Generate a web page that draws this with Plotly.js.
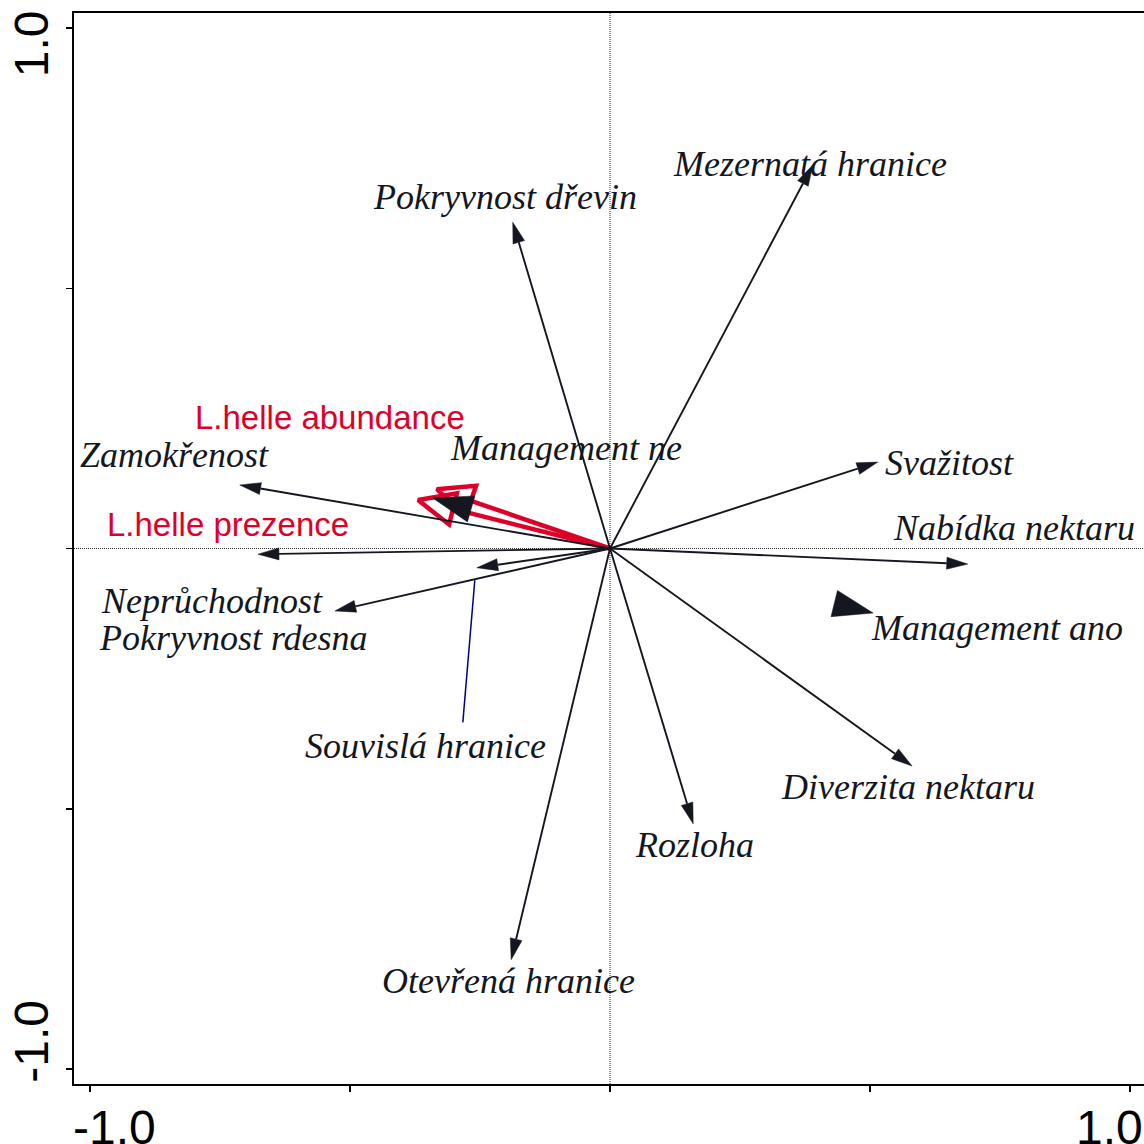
<!DOCTYPE html>
<html><head><meta charset="utf-8">
<script src="https://cdn.plot.ly/plotly-3.0.1.min.js"></script>
<style>html,body{margin:0;padding:0;background:#fff;}</style>
</head><body><div id="chart" style="width:1144px;height:1144px;"></div>
<script>
// ---- data ----
const envNames = ['Pokryvnost dřevin','Mezernatá hranice','Svažitost','Nabídka nektaru','Diverzita nektaru','Rozloha','Otevřená hranice','Zamokřenost','Neprůchodnost','Pokryvnost rdesna','Souvislá hranice'];
const envX = [-0.187, 0.390, 0.515, 0.688, 0.581, 0.160, -0.190, -0.712, -0.677, -0.529, -0.256];
const envY = [ 0.627, 0.737, 0.166, -0.030, -0.418, -0.529, -0.790, 0.122, -0.011, -0.120, -0.037];
const spNames = ['L.helle abundance','L.helle prezence'];
const spX = [-0.333, -0.369];
const spY = [ 0.114,  0.093];
const ctrNames = ['Management ne','Management ano'];
const ctrX = [-0.341, 0.506];
const ctrY = [ 0.097, -0.124];
const tickVals = [-1, -0.5, 0, 0.5, 1];
const xTickLabels = ['-1.0','1.0'];
const yTickLabels = ['1.0','-1.0'];

// ---- label layout (positions in data units) ----
const envLabelPos = [[-0.202,0.675],[0.385,0.739],[0.652,0.164],[0.777,0.039],[0.573,-0.458],[0.163,-0.570],[-0.196,-0.831],[-0.838,0.180],[-0.765,-0.101],[-0.725,-0.172],[-0.354,-0.379]];
const spLabelPos = [[-0.538,0.251],[-0.735,0.047]];
const ctrLabelPos = [[-0.085,0.194],[0.744,-0.153]];

// ---- style ----
const PX = 520;
const BLACK = '#14171f';
const RED = 'rgb(222,0,40)';
const SERIF = 'Liberation Serif, Times New Roman, serif';
const SANS = 'Liberation Sans, Arial, sans-serif';

function geom(x, y, len, wid) {
  const d = Math.hypot(x, y), ux = x / d, uy = y / d;
  const L = len / PX, W = wid / 2 / PX;
  const bx = x - ux * L, by = y - uy * L;
  return { base: [bx, by], poly: [[x, y], [bx - uy * W, by + ux * W], [bx + uy * W, by - ux * W], [x, y]] };
}
function push(ax, ay, pts) { pts.forEach(p => { ax.push(p[0]); ay.push(p[1]); }); ax.push(null); ay.push(null); }

const shX = [], shY = [], hdX = [], hdY = [];
envX.forEach((x, i) => {
  const g = geom(x, envY[i], 21, 12);
  push(shX, shY, [[0, 0], g.base]);
  push(hdX, hdY, g.poly);
});
const ctX = [], ctY = [];
ctrX.forEach((x, i) => { push(ctX, ctY, geom(x, ctrY[i], 40, 27).poly); });
const rsX = [], rsY = [], rhX = [], rhY = [];
spX.forEach((x, i) => {
  const g = geom(x, spY[i], 36, 32);
  push(rsX, rsY, [[0, 0], g.base]);
  push(rhX, rhY, g.poly.concat([g.poly[1]]));
});

const traces = [
  { x: rsX, y: rsY, mode: 'lines', line: { color: RED, width: 4.5 }, hoverinfo: 'skip', showlegend: false },
  { x: rhX, y: rhY, mode: 'lines', line: { color: RED, width: 4.5 }, hoverinfo: 'skip', showlegend: false },
  { x: shX, y: shY, mode: 'lines', line: { color: BLACK, width: 1.9 }, hoverinfo: 'skip', showlegend: false },
  { x: hdX, y: hdY, mode: 'lines', fill: 'toself', fillcolor: BLACK, line: { color: BLACK, width: 0.5 }, hoverinfo: 'skip', showlegend: false },
  { x: ctX, y: ctY, mode: 'lines', fill: 'toself', fillcolor: BLACK, line: { color: BLACK, width: 0.5 }, hoverinfo: 'skip', showlegend: false }
];

const ann = [];
envNames.forEach((n, i) => ann.push({ x: envLabelPos[i][0], y: envLabelPos[i][1], text: '<i>' + n + '</i>', showarrow: false, xanchor: 'center', yanchor: 'middle', font: { family: SERIF, size: 36, color: BLACK } }));
ctrNames.forEach((n, i) => ann.push({ x: ctrLabelPos[i][0], y: ctrLabelPos[i][1], text: '<i>' + n + '</i>', showarrow: false, xanchor: 'center', yanchor: 'middle', font: { family: SERIF, size: 36, color: BLACK } }));
spNames.forEach((n, i) => ann.push({ x: spLabelPos[i][0], y: spLabelPos[i][1], text: n, showarrow: false, xanchor: 'center', yanchor: 'middle', font: { family: SANS, size: 33, color: RED } }));
// axis tick labels
ann.push({ xref: 'paper', yref: 'paper', x: 0.0374, y: -0.041, text: xTickLabels[0], showarrow: false, xanchor: 'center', yanchor: 'middle', font: { family: SANS, size: 48, color: '#000' } });
ann.push({ xref: 'paper', yref: 'paper', x: 0.968, y: -0.041, text: xTickLabels[1], showarrow: false, xanchor: 'center', yanchor: 'middle', font: { family: SANS, size: 48, color: '#000' } });
ann.push({ xref: 'paper', yref: 'paper', x: -0.040, y: 0.971, text: yTickLabels[0], textangle: -90, showarrow: false, xanchor: 'center', yanchor: 'middle', font: { family: SANS, size: 48, color: '#000' } });
ann.push({ xref: 'paper', yref: 'paper', x: -0.040, y: 0.0397, text: yTickLabels[1], textangle: -90, showarrow: false, xanchor: 'center', yanchor: 'middle', font: { family: SANS, size: 48, color: '#000' } });

const shapes = [
  { type: 'line', xref: 'x', yref: 'paper', x0: 0, x1: 0, y0: 0, y1: 1, line: { color: '#333', width: 1, dash: '1px,1px' }, layer: 'below' },
  { type: 'line', xref: 'paper', yref: 'y', x0: 0, x1: 1, y0: 0, y1: 0, line: { color: '#333', width: 1, dash: '1px,1px' }, layer: 'below' },
  { type: 'line', xref: 'x', yref: 'y', x0: -0.260, y0: -0.061, x1: -0.283, y1: -0.334, line: { color: '#000080', width: 1.5 } }
];

const layout = {
  width: 1144, height: 1144,
  margin: { l: 74, r: 0, t: 13, b: 60, pad: 0 },
  paper_bgcolor: '#fff', plot_bgcolor: '#fff',
  showlegend: false,
  xaxis: { range: [-1.0308, 1.027], tickvals: tickVals, showticklabels: false, ticks: 'outside', ticklen: 6, tickwidth: 1.5, tickcolor: '#000',
           showline: true, linecolor: '#000', linewidth: 1.8, mirror: true, showgrid: false, zeroline: false, fixedrange: true },
  yaxis: { range: [-1.0288, 1.0288], tickvals: tickVals, showticklabels: false, ticks: 'outside', ticklen: 6, tickwidth: 1.5, tickcolor: '#000',
           showline: true, linecolor: '#000', linewidth: 1.8, mirror: false, showgrid: false, zeroline: false, fixedrange: true },
  annotations: ann,
  shapes: shapes
};
Plotly.newPlot('chart', traces, layout, { displayModeBar: false, staticPlot: true });
</script></body></html>
